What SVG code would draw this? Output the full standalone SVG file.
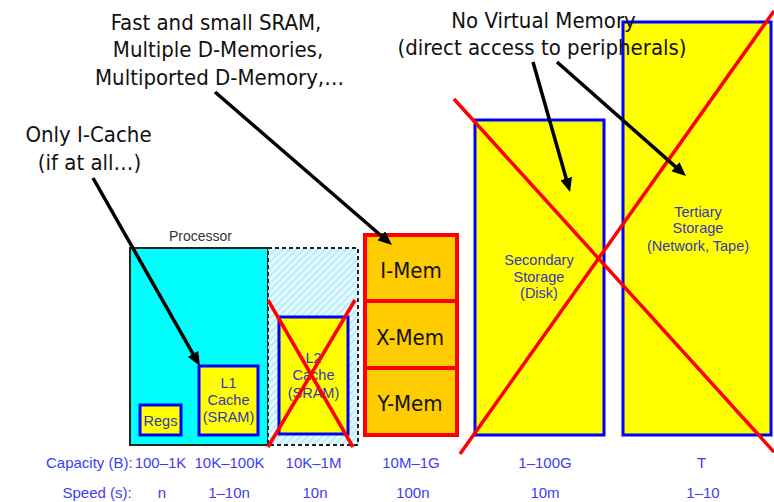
<svg xmlns="http://www.w3.org/2000/svg" width="774" height="502" viewBox="0 0 774 502">
  <style>
    .note { font-family: "DejaVu Sans Condensed", "DejaVu Sans", sans-serif; font-stretch: condensed; font-size: 22px; fill: #111; text-anchor: middle; }
    .mem { font-family: "DejaVu Sans Condensed", "DejaVu Sans", sans-serif; font-stretch: condensed; font-size: 22px; fill: #111; text-anchor: middle; }
    .lbl { font-family: "Liberation Sans", Arial, sans-serif; font-size: 14.5px; fill: #3636b4; text-anchor: middle; }
    .scale { font-family: "Liberation Sans", Arial, sans-serif; font-size: 15px; fill: #3d3df0; text-anchor: middle; }
    .scale.head { text-anchor: start; }
    .box { fill: #ffff00; stroke: #0000ff; stroke-width: 3; }
    .cell { fill: #ffcc00; stroke: #ff0000; stroke-width: 4; }
    .cross { stroke: #ff0000; stroke-width: 3.5; fill: none; }
    .arrow { stroke: #000; stroke-width: 3.5; fill: none; marker-end: url(#head); }
  </style>
  <defs>
    <marker id="head" markerUnits="userSpaceOnUse" markerWidth="15" markerHeight="12" refX="4" refY="6" orient="auto">
      <path d="M0,0 L14,6 L0,12 z" fill="#000"/>
    </marker>
    <pattern id="hatch" width="5" height="5" patternUnits="userSpaceOnUse" patternTransform="rotate(-45)">
      <rect width="5" height="5" fill="#e8fbff"/>
      <rect width="5" height="2.2" fill="#b8effc"/>
    </pattern>
  </defs>

  <rect width="774" height="502" fill="#ffffff"/>

  <!-- processor and its caches -->
  <g id="processor">
    <rect x="130" y="248" width="138" height="197" fill="#00ffff" stroke="#222" stroke-width="2"/>
    <text x="200.5" y="241" font-family="Liberation Sans, Arial, sans-serif" font-size="14" fill="#333" text-anchor="middle">Processor</text>
  </g>
  <g id="l2-area">
    <rect x="268" y="248" width="90" height="197" fill="url(#hatch)" stroke="#222" stroke-width="2" stroke-dasharray="4 3"/>
  </g>
  <g id="regs">
    <rect class="box" x="140" y="405" width="41" height="30"/>
    <text class="lbl" x="160.5" y="425.5">Regs</text>
  </g>
  <g id="l1-cache">
    <rect class="box" x="199" y="366" width="59" height="69"/>
    <text class="lbl" x="228.5" y="388">L1</text>
    <text class="lbl" x="228.5" y="405">Cache</text>
    <text class="lbl" x="228.5" y="422">(SRAM)</text>
  </g>
  <g id="l2-cache">
    <rect class="box" x="279" y="317" width="69" height="117"/>
    <text class="lbl" x="313.5" y="363">L2</text>
    <text class="lbl" x="313.5" y="380">Cache</text>
    <text class="lbl" x="313.5" y="398">(SRAM)</text>
  </g>

  <!-- on-chip memories -->
  <g id="i-mem">
    <rect class="cell" x="365" y="235" width="92" height="66"/>
    <text class="mem" x="411" y="278">I-Mem</text>
  </g>
  <g id="x-mem">
    <rect class="cell" x="365" y="301" width="92" height="67"/>
    <text class="mem" x="410" y="345">X-Mem</text>
  </g>
  <g id="y-mem">
    <rect class="cell" x="365" y="368" width="92" height="67"/>
    <text class="mem" x="410" y="411">Y-Mem</text>
  </g>

  <!-- storage -->
  <g id="secondary">
    <rect class="box" x="475" y="120" width="129" height="315"/>
    <text class="lbl" x="539" y="265">Secondary</text>
    <text class="lbl" x="539" y="282">Storage</text>
    <text class="lbl" x="539" y="298">(Disk)</text>
  </g>
  <g id="tertiary">
    <rect class="box" x="623" y="22" width="148" height="413"/>
    <text class="lbl" x="698" y="217">Tertiary</text>
    <text class="lbl" x="698" y="233">Storage</text>
    <text class="lbl" x="698" y="251">(Network, Tape)</text>
  </g>

  <!-- strike-outs -->
  <g id="crosses">
    <line class="cross" x1="268" y1="300" x2="353" y2="447"/>
    <line class="cross" x1="355" y1="300" x2="268" y2="447"/>
    <line class="cross" x1="454" y1="99" x2="774" y2="452"/>
    <line class="cross" x1="460" y1="454" x2="774" y2="11"/>
  </g>

  <!-- annotations -->
  <g id="note-sram">
    <text class="note" x="216" y="29.5">Fast and small SRAM,</text>
    <text class="note" x="218" y="57">Multiple D-Memories,</text>
    <text class="note" x="219.5" y="84.5">Multiported D-Memory,…</text>
  </g>
  <g id="note-vm">
    <text class="note" x="543.5" y="27.5">No Virtual Memory</text>
    <text class="note" x="542" y="54.5">(direct access to peripherals)</text>
  </g>
  <g id="note-icache">
    <text class="note" x="88.5" y="142">Only I-Cache</text>
    <text class="note" x="89.5" y="169.5">(if at all…)</text>
  </g>

  <!-- connectors -->
  <g id="connectors">
    <line class="arrow" x1="93" y1="178" x2="195" y2="357.3"/>
    <line class="arrow" x1="215" y1="92" x2="384.4" y2="238.5"/>
    <line class="arrow" x1="533" y1="62" x2="567.3" y2="182.4"/>
    <line class="arrow" x1="557" y1="62" x2="678.5" y2="169.4"/>
  </g>

  <!-- capacity / speed scale -->
  <g id="scale">
    <text class="scale head" x="46" y="468">Capacity (B):</text>
    <text class="scale" x="160.5" y="468">100–1K</text>
    <text class="scale" x="229.5" y="468">10K–100K</text>
    <text class="scale" x="313.5" y="468">10K–1M</text>
    <text class="scale" x="411" y="468">10M–1G</text>
    <text class="scale" x="545" y="468">1–100G</text>
    <text class="scale" x="701.5" y="468">T</text>
    <text class="scale head" x="62.5" y="498">Speed (s):</text>
    <text class="scale" x="162" y="498">n</text>
    <text class="scale" x="229" y="498">1–10n</text>
    <text class="scale" x="315" y="498">10n</text>
    <text class="scale" x="412.8" y="498">100n</text>
    <text class="scale" x="545" y="498">10m</text>
    <text class="scale" x="703" y="498">1–10</text>
  </g>
</svg>
